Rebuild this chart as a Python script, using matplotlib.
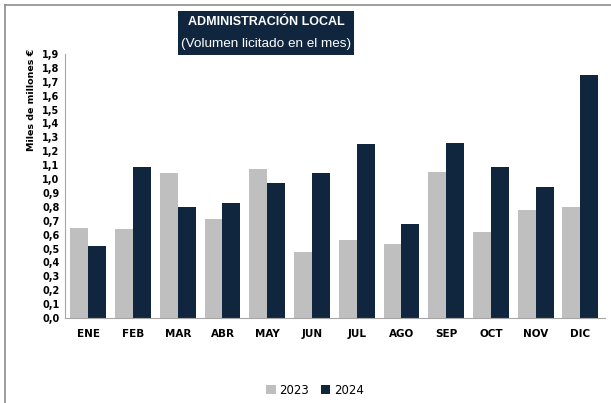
import numpy as np
import matplotlib.pyplot as plt
from matplotlib.patches import Rectangle

meses = ['ENE', 'FEB', 'MAR', 'ABR', 'MAY', 'JUN', 'JUL', 'AGO', 'SEP', 'OCT', 'NOV', 'DIC']
v2023 = [0.65, 0.64, 1.04, 0.71, 1.07, 0.475, 0.56, 0.53, 1.05, 0.62, 0.78, 0.80]
v2024 = [0.52, 1.09, 0.80, 0.83, 0.97, 1.045, 1.25, 0.68, 1.26, 1.09, 0.94, 1.75]
yticks = np.round(np.arange(0, 1.95, 0.1), 1)

gris = '#BFBFBF'
azul = '#10263F'

fig = plt.figure(figsize=(6.11, 4.03), dpi=100)
ax = fig.add_axes([65/611, 85/403, 540/611, 264/403])

x = np.arange(len(meses))
w = 0.4
ax.bar(x - w/2, v2023, w, color=gris, linewidth=0, label='2023')
ax.bar(x + w/2, v2024, w, color=azul, linewidth=0, label='2024')

ax.set_xlim(-0.52, 11.55)
ax.set_ylim(0, 1.9)
ax.set_yticks(yticks)
ax.set_yticklabels([f'{t:.1f}'.replace('.', ',') for t in yticks], fontsize=7, fontweight='bold')
ax.set_xticks(x)
ax.set_xticklabels(meses, fontsize=7.5, fontweight='bold')
ax.tick_params(length=0, pad=4)
ax.tick_params(axis='x', pad=8)
for s in ['top', 'right']:
    ax.spines[s].set_visible(False)
ax.spines['left'].set_color('#A6A6A6')
ax.spines['bottom'].set_color('#A6A6A6')
ax.spines['left'].set_linewidth(0.8)
ax.spines['bottom'].set_linewidth(0.8)

fig.text(31/611, 1 - 100/403, 'Miles de millones €', rotation=90, fontsize=6.8,
         fontweight='bold', ha='center', va='center')

# recuadro del titulo
fig.patches.append(Rectangle((178/611, 1 - 55/403), 176/611, 44/403,
                             transform=fig.transFigure, facecolor=azul, edgecolor='none'))
fig.text(266/611, 1 - 22/403, 'ADMINISTRACIÓN LOCAL', color='white', fontsize=9,
         fontweight='bold', ha='center', va='center', family='Liberation Sans')
fig.text(266/611, 1 - 44/403, '(Volumen licitado en el mes)', color='white', fontsize=9.7,
         ha='center', va='center', family='Liberation Sans')

# marco gris
fig.add_artist(plt.Line2D([5/611, 5/611], [0, 1 - 5/403], transform=fig.transFigure,
                          color='#8C8C8C', linewidth=1.2))
fig.add_artist(plt.Line2D([5/611, 1], [1 - 5/403, 1 - 5/403], transform=fig.transFigure,
                          color='#8C8C8C', linewidth=1.2))

fig.legend(loc='center', bbox_to_anchor=(315/611, 1 - 390/403), ncol=2, frameon=False,
           fontsize=8.5, handlelength=0.8, handleheight=0.8, handletextpad=0.3, columnspacing=1.0)

fig.savefig('out.png', dpi=100)
